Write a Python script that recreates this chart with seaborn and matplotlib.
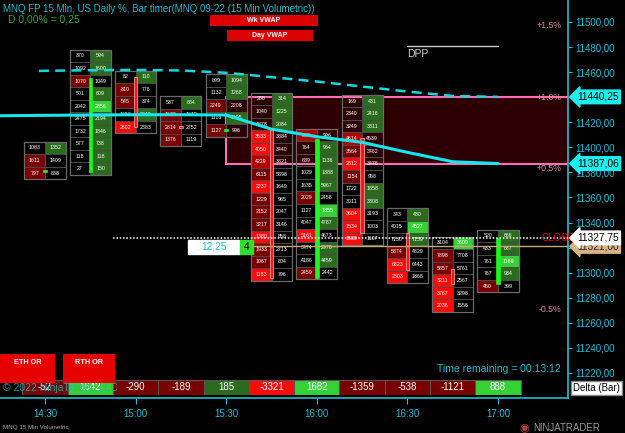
import matplotlib
matplotlib.use("Agg")
import matplotlib.pyplot as plt
import seaborn as sns
import pandas as pd
from matplotlib.patches import Rectangle
from matplotlib.transforms import blended_transform_factory

W, H = 625, 433
sns.set_theme(style="dark", rc={"axes.facecolor": "black", "figure.facecolor": "black",
                                "axes.grid": False})
plt.rcParams['font.family'] = ['Liberation Sans', 'DejaVu Sans']

# ---------------- data ----------------
bar_minutes = [870, 885, 900, 915, 930, 945, 960, 975, 990, 1005, 1020]
tick_minutes = [870, 900, 930, 960, 990, 1020]
tick_labels = ["14:30", "15:00", "15:30", "16:00", "16:30", "17:00"]
y_ticks = [11220, 11240, 11260, 11280, 11300, 11320, 11340, 11360, 11380, 11400,
           11420, 11440, 11460, 11480, 11500]

row_top = [11399.5, 11472.9, 11456.2, 11435.9, 11453.5, 11438.6, 11409.8,
           11436.9, 11346.6, 11323.7, 11329.3]

bid_vol = [
    [1083, 1611, 797],
    [370, 1092, 1070, 501, 2042, 2475, 1732, 577, 118, 27],
    [82, 810, 545, 1658, 2602],
    [537, 1639, 2814, 1376],
    [899, 1132, 2249, 1113, 1127],
    [280, 1040, 1878, 3533, 4050, 4229, 6115, 2237, 1229, 2152, 3217, 1380, 1933, 1067, 1183],
    [899, 764, 839, 1029, 1635, 2029, 1127, 4047, 5161, 3474, 4186, 2459],
    [169, 2340, 3249, 4614, 3564, 2812, 1154, 1722, 3011, 3604, 1534, 1580],
    [343, 4015, 7130, 5874, 6823, 2303],
    [3104, 7898, 5857, 3211, 3767, 2036],
    [520, 433, 761, 767, 450],
]
ask_vol = [
    [1352, 1409, 888],
    [594, 1600, 1049, 609, 2856, 2194, 1846, 738, 118, 150],
    [110, 776, 374, 2049, 2383],
    [684, 1612, 2752, 1119],
    [1094, 1268, 2208, 1105, 996],
    [314, 1225, 2084, 3384, 3440, 3821, 5898, 1649, 985, 2047, 3146, 858, 2713, 804, 796],
    [996, 964, 1136, 1388, 5967, 2458, 1855, 4787, 4673, 2978, 4459, 2442],
    [431, 2416, 3311, 4539, 3462, 3478, 958, 1858, 3308, 3193, 1003, 1107],
    [480, 4527, 7159, 4829, 6443, 1868],
    [3609, 7708, 5761, 2567, 3298, 1556],
    [666, 687, 1189, 934, 399],
]
bid_shade = [
    [0, 1, 1],
    [0, 0, 1, 0, 0, 0, 0, 0, 0, 0],
    [0, 1, 1, 0, 3],
    [0, 1, 1, 1],
    [0, 0, 1, 0, 1],
    [0, 0, 0, 3, 3, 2, 1, 3, 1, 1, 1, 3, 1, 1, 3],
    [2, 0, 0, 0, 0, 1, 0, 0, 3, 0, 0, 1],
    [0, 0, 0, 2, 1, 3, 1, 0, 0, 3, 3, 3],
    [0, 0, 0, 1, 3, 3],
    [0, 1, 1, 3, 3, 3],
    [0, 0, 0, 0, 1],
]
ask_shade = [
    [1, 0, 0],
    [1, 1, 0, 1, 3, 1, 1, 1, 1, 1],
    [1, 0, 0, 1, 0],
    [1, 0, 0, 0],
    [1, 1, 0, 1, 0],
    [1, 1, 1, 0, 0, 0, 0, 0, 0, 0, 0, 0, 0, 0, 0],
    [0, 1, 1, 1, 1, 0, 3, 1, 0, 1, 1, 0],
    [1, 1, 1, 0, 0, 0, 0, 1, 1, 0, 0, 0],
    [1, 3, 1, 0, 0, 0],
    [3, 0, 0, 0, 0, 0],
    [1, 1, 3, 1, 0],
]
candle_open = [11380.5, 11380.3, 11456.1, 11417.0, 11413.0, 11415.4, 11295.8,
               11407.5, 11331.7, 11303.0, 11291.0]
candle_close = [11381.5, 11455.3, 11416.2, 11415.4, 11414.5, 11295.8, 11406.7,
                11331.7, 11302.2, 11291.0, 11327.75]

delta_values = [-52, 1642, -290, -189, 185, -3321, 1682, -1359, -538, -1121, 888]
delta_shade = [1, 3, 1, 1, 1, 3, 3, 1, 1, 1, 3]

vwap_minutes = [840, 855, 870, 885, 900, 915, 930, 945, 960, 975, 990, 1005, 1020]
day_vwap = [11424.8, 11425.2, 11425.5, 11425.8, 11426.0, 11426.0, 11425.8,
            11414.5, 11408.5, 11404.0, 11396.0, 11388.5, 11387.06]
wk_minutes = [868, 885, 900, 915, 930, 945, 960, 975, 990, 1005, 1020]
wk_vwap = [11461.0, 11461.5, 11461.8, 11461.3, 11459.5, 11456.0, 11452.5,
           11448.5, 11444.5, 11441.0, 11440.25]

zone_low, zone_high, zone_start = 11387.06, 11440.25, 930
close_price = 11327.75
prior_level = 11321.00
dpp_level, dpp_start, dpp_end = 11480.9, 990, 1020
pct_labels = ["+1.5%", "+1.0%", "+0.5%", "-0.5%"]
pct_prices = [11497.6, 11440.0, 11383.5, 11270.5]
range_text, count_text = "12,25", "4"

# ---------------- figure ----------------
fig = plt.figure(figsize=(W / 100, H / 100), dpi=100)
fig.patch.set_facecolor("black")
ax = fig.add_axes([0, 35 / H, 568 / W, 398 / H])
ax.set_facecolor("black")
xmin, xmax = 870 - 45 / 3.02, 870 + 523 / 3.02
ymin, ymax = 11200, 11500 + 22 / 1.2536
ax.set_xlim(xmin, xmax)
ax.set_ylim(ymin, ymax)

CYAN = "#1cbfd4"
RED_SH = {1: "#780000", 2: "#b00000", 3: "#ff0a0a"}
GRN_SH = {1: "#2a6b1e", 2: "#3c952b", 3: "#35d235"}

# zone box
ax.add_patch(Rectangle((zone_start, zone_low), xmax + 20 - zone_start, zone_high - zone_low,
                       facecolor="#2c0002", edgecolor="#ff6eb4", linewidth=1.5, zorder=1))

# footprint cells
cw = 6.79
for i, t in enumerate(bar_minutes):
    n = len(bid_vol[i])
    prices = [row_top[i] - 10 * k for k in range(n)]
    for k, p in enumerate(prices):
        bs, a_s = bid_shade[i][k], ask_shade[i][k]
        ax.bar(t - cw, 10, bottom=p - 5, width=cw, align="edge",
               color=RED_SH.get(bs, "none"), edgecolor="#4a4a4a", linewidth=0.6, zorder=2)
        ax.bar(t, 10, bottom=p - 5, width=cw, align="edge",
               color=GRN_SH.get(a_s, "none"), edgecolor="#4a4a4a", linewidth=0.6, zorder=2)
        ax.text(t - cw / 2, p, str(bid_vol[i][k]), color="white", fontsize=3.8,
                ha="center", va="center", zorder=3)
        ax.text(t + cw / 2, p, str(ask_vol[i][k]), color="white", fontsize=3.8,
                ha="center", va="center", zorder=3)
    ax.add_patch(Rectangle((t - cw, prices[-1] - 5), 2 * cw, 10 * n, fill=False,
                           edgecolor="#6a6a6a", linewidth=0.9, zorder=3))
    o, c = candle_open[i], candle_close[i]
    up = c >= o
    h = max(abs(c - o), 1.6)
    b = min(o, c) if abs(c - o) >= 1.6 else (o + c) / 2 - 0.8
    ax.bar(t, h, bottom=b, width=1.15, color="#1df51d" if up else "#ff1515",
           edgecolor="#1df51d" if up else "#ffb0b0", linewidth=0.5, zorder=4)

# VWAP lines
df_day = pd.DataFrame({"t": vwap_minutes, "v": day_vwap})
df_wk = pd.DataFrame({"t": wk_minutes, "v": wk_vwap})
sns.lineplot(data=df_day, x="t", y="v", ax=ax, color="#14e8ee", linewidth=2.2, zorder=5)
sns.lineplot(data=df_wk, x="t", y="v", ax=ax, color="#14d8e0", linewidth=1.8,
             linestyle=(0, (4, 2.5)), zorder=5)

# DPP
ax.plot([dpp_start, dpp_end], [dpp_level, dpp_level], color="#c8c8c8", lw=1, zorder=5)
ax.text(dpp_start, dpp_level - 2.2, "DPP", color="#d0d0d0", fontsize=7.5, va="top", ha="left")

# close dotted line and prior level
ax.plot([892.5, xmax], [close_price, close_price], color="white", lw=1.1,
        linestyle=(0, (1, 1.2)), zorder=6)
ax.plot([938.9, xmax], [prior_level, prior_level], color="#c9a57a", lw=1, zorder=6)
ax.text(1034.3, close_price, "CLOSE", color="#e00000", fontsize=7, ha="left",
        va="center", zorder=6)

# pct labels
for lab, p in zip(pct_labels, pct_prices):
    ax.text(1041, p, lab, color="#d98a9a", fontsize=6.3, ha="right", va="center", zorder=6)

# 12,25 and 4 boxes
fig.patches.append(Rectangle((188 / W, 1 - 254 / H), 52 / W, 14 / H, transform=fig.transFigure,
                             facecolor="white", edgecolor="white", zorder=7))
fig.patches.append(Rectangle((240 / W, 1 - 254 / H), 13 / W, 14 / H, transform=fig.transFigure,
                             facecolor="#2fe02f", edgecolor="#2fe02f", zorder=7))
fig.text(214 / W, 1 - 247 / H, range_text, color="#1cbfd4", fontsize=7.3, ha="center",
         va="center", zorder=8)
fig.text(246.5 / W, 1 - 247 / H, count_text, color="black", fontsize=7.3, ha="center",
         va="center", zorder=8)

# axes styling
for s in ["left", "top"]:
    ax.spines[s].set_visible(False)
for s in ["right", "bottom"]:
    ax.spines[s].set_visible(True)
    ax.spines[s].set_color(CYAN)
    ax.spines[s].set_linewidth(1.2)
ax.yaxis.tick_right()
ax.set_yticks(y_ticks)
ax.set_yticklabels([f"{v:.2f}".replace(".", ",") for v in y_ticks])
ax.set_xticks(tick_minutes)
ax.set_xticklabels(tick_labels)
ax.tick_params(axis="y", colors=CYAN, labelsize=7, length=3, width=0.8, pad=2, right=True)
ax.tick_params(axis="x", colors=CYAN, labelsize=7, length=4, width=0.8, pad=4, bottom=True)
ax.set_xlabel("")
ax.set_ylabel("")

# right price labels
ytr = blended_transform_factory(ax.transAxes, ax.transData)
for val, fc, tc in [(11440.25, "#19f0f0", "black"), (11387.06, "#19f0f0", "black"),
                    (11321.00, "#d9b384", "#222222"), (11327.75, "white", "black")]:
    ax.text(1 + 9 / 568, val, f"{val:.2f}".replace(".", ","), transform=ytr, color=tc,
            fontsize=7.3, ha="left", va="center", zorder=20, clip_on=False,
            bbox=dict(boxstyle="larrow,pad=0.18", facecolor=fc, edgecolor=fc))

# delta row
ax_d = fig.add_axes([0, (H - 395) / H, 568 / W, 15 / H])
ax_d.set_xlim(xmin, xmax)
ax_d.set_ylim(0, 1)
ax_d.axis("off")
ax_d.patch.set_alpha(0)
dcols = [(RED_SH if v < 0 else GRN_SH)[s] for v, s in zip(delta_values, delta_shade)]
ax_d.bar(bar_minutes, 1, width=15.02, bottom=0, color=dcols, edgecolor="#555555", linewidth=0.8)
for t, v in zip(bar_minutes, delta_values):
    ax_d.text(t, 0.5, str(v), color="white", fontsize=7, ha="center", va="center")

# figure texts
fig.text(3 / W, 1 - 9 / H, "MNQ FP 15 Min, US Daily %, Bar timer(MNQ 09-22 (15 Min Volumetric))",
         color="#22bcd0", fontsize=7.0, ha="left", va="center")
fig.text(8 / W, 1 - 20 / H, "D 0,00% = 0,25", color="#2ea82e", fontsize=7.5, ha="left", va="center")
for x0, x1, y0, y1, lab in [(210, 318, 15, 26, "Wk VWAP"), (227, 313, 30, 41, "Day VWAP")]:
    fig.patches.append(Rectangle((x0 / W, 1 - y1 / H), (x1 - x0) / W, (y1 - y0) / H,
                                 transform=fig.transFigure, facecolor="#dd0000", edgecolor="none"))
    fig.text((x0 + x1) / 2 / W, 1 - (y0 + y1) / 2 / H, lab, color="white", fontsize=5,
             fontweight="bold", ha="center", va="center")
for x0, x1, lab in [(0, 55, "ETH OR"), (63, 115, "RTH OR")]:
    fig.patches.append(Rectangle((x0 / W, 1 - 383 / H), (x1 - x0) / W, 29 / H,
                                 transform=fig.transFigure, facecolor="#e60000", edgecolor="none"))
    fig.text((x0 + x1) / 2 / W, 1 - 362 / H, lab, color="white", fontsize=5.3,
             fontweight="bold", ha="center", va="center")
fig.text(561 / W, 1 - 369 / H, "Time remaining = 00:13:12", color="#22bcd0", fontsize=7.5,
         ha="right", va="center")
fig.text(3 / W, 1 - 388 / H, "© 2022 NinjaTrader, LLC", color="#1fb5b5", fontsize=7.5,
         ha="left", va="center", alpha=0.85, zorder=30)
fig.text(573 / W, 1 - 388 / H, "Delta (Bar)", color="black", fontsize=7, ha="left", va="center",
         bbox=dict(boxstyle="square,pad=0.25", facecolor="white", edgecolor="#888888"))
fig.text(3 / W, 1 - 428 / H, "MNQ 15 Min Volumetric", color="#aaaaaa", fontsize=4.5,
         ha="left", va="center")
fig.text(533 / W, 1 - 428 / H, "NINJATRADER", color="#9a9a9a", fontsize=7, ha="left", va="center")
fig.text(524 / W, 1 - 428 / H, "◉", color="#b04040", fontsize=8, ha="center", va="center",
         family=["DejaVu Sans"])

fig.savefig("out.png", dpi=100, facecolor="black")
